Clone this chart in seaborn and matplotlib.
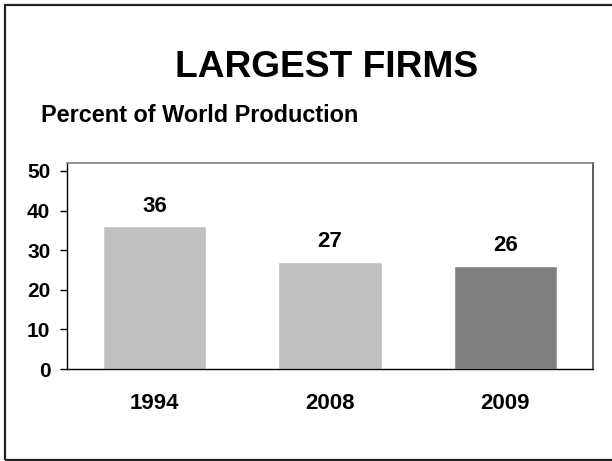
import matplotlib
matplotlib.use("Agg")
import matplotlib.pyplot as plt
from matplotlib.patches import Rectangle
import pandas as pd
import seaborn as sns

# Share of world production held by the largest firms
years = ["1994", "2008", "2009"]
shares = [36, 27, 26]
bar_colors = ["#C0C0C0", "#C0C0C0", "#808080"]
y_ticks = [0, 10, 20, 30, 40, 50]

sns.set_theme(style="white")
plt.rcParams["font.family"] = ["Liberation Sans", "DejaVu Sans"]
plt.rcParams["font.weight"] = "bold"

W, H = 612, 461
fig = plt.figure(figsize=(W / 100, H / 100), dpi=100)
fig.patch.set_facecolor("white")

ax = fig.add_axes([67 / W, (H - 369) / H, (593 - 67) / W, (369 - 163) / H])

df = pd.DataFrame({"year": years, "share": shares})
sns.barplot(data=df, x="year", y="share", hue="year",
            palette=dict(zip(years, bar_colors)), width=0.59,
            legend=False, ax=ax, saturation=1)

for cont, val in zip(ax.containers, shares):
    ax.bar_label(cont, labels=[f"{val}"], padding=7,
                 fontsize=16, fontweight="bold", color="black")

ax.set_ylim(0, 52)
ax.set_yticks(y_ticks)
ax.set_xlabel("")
ax.set_ylabel("")
ax.set_facecolor("white")

ax.tick_params(axis="y", length=5, width=1, color="black", pad=7,
               labelsize=15, left=True)
ax.tick_params(axis="x", length=0, pad=17, labelsize=16)
for lab in ax.get_xticklabels() + ax.get_yticklabels():
    lab.set_fontweight("bold")
    lab.set_color("black")

for side in ["left", "bottom"]:
    ax.spines[side].set_color("black")
    ax.spines[side].set_linewidth(1.0)
ax.spines["top"].set_color("#808080")
ax.spines["top"].set_linewidth(1.2)
ax.spines["right"].set_color("#404040")
ax.spines["right"].set_linewidth(1.2)
for s in ax.spines.values():
    s.set_visible(True)

fig.text(327 / W, 1 - 77 / H, "LARGEST FIRMS", ha="center", va="baseline",
         fontsize=26.7, fontweight="bold", color="black")
fig.text(41 / W, 1 - 122 / H, "Percent of World Production", ha="left",
         va="baseline", fontsize=16.9, fontweight="bold", color="black")

# Slide border
fig.add_artist(Rectangle((5 / W, 1 / H), 1.2, (455 / H), transform=fig.transFigure,
                         fill=False, edgecolor="#222222", linewidth=1.6))

fig.savefig("out.png", dpi=100, facecolor="white")
